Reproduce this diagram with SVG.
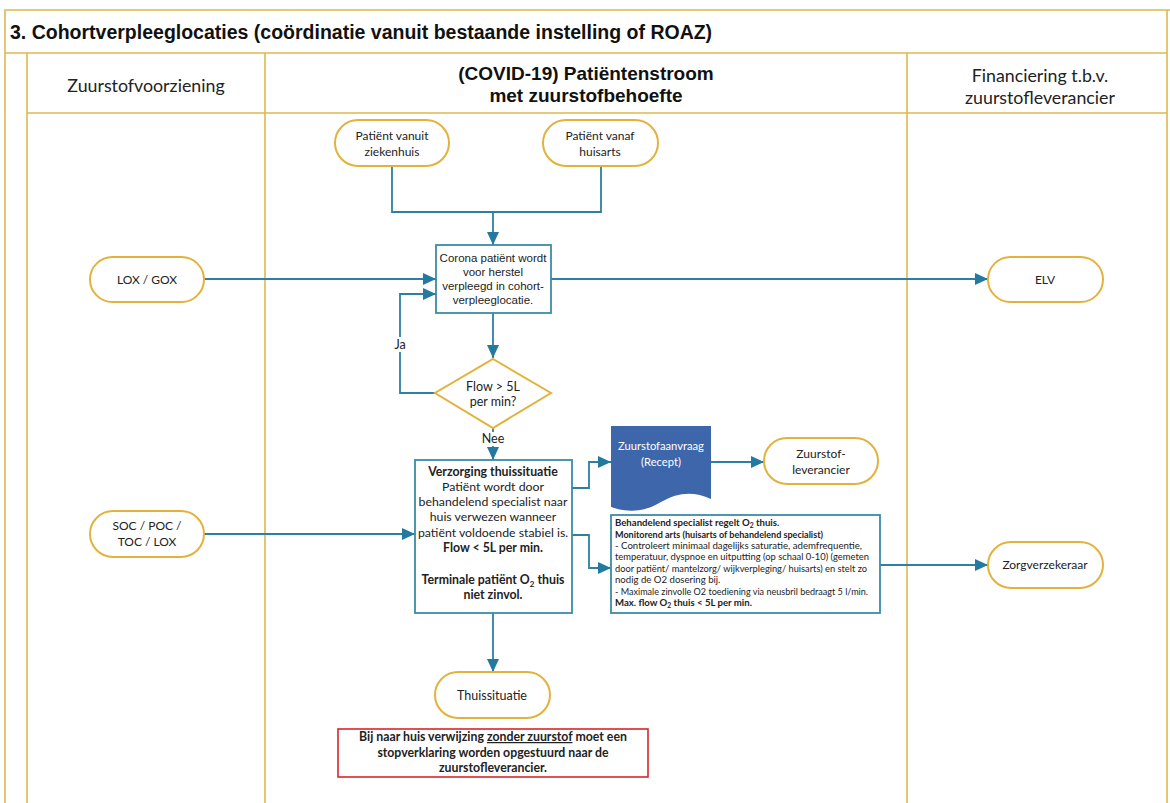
<svg xmlns="http://www.w3.org/2000/svg" width="1170" height="803" viewBox="0 0 1170 803">
<style>
.lane{stroke:#DDB94F;stroke-width:1.6;fill:none}
.term{fill:#fff;stroke:#E3B23C;stroke-width:2}
.box{fill:#fff;stroke:#3B8CA6;stroke-width:1.8}
.con{fill:none;stroke:#2E7FA2;stroke-width:1.8}
.t{font-family:Lato,"Open Sans",sans-serif;fill:#222;text-anchor:middle}
.a{font-family:"Liberation Sans",Arial,sans-serif;fill:#222;text-anchor:middle}
.b{font-weight:bold}
.lbl{fill:#fff}
</style>
<defs>
<marker id="arr" markerUnits="userSpaceOnUse" markerWidth="13" markerHeight="12" refX="13" refY="6" orient="auto">
<path d="M0,0 L13,6 L0,12 Z" fill="#2379A0"/>
</marker>
</defs>
<rect width="1170" height="803" fill="#fff"/>
<g id="lanes">
<path class="lane" d="M5,803 V10 H1170 M1167,10 V803 M5,53 H1167 M27,53 V803 M27,113 H1167 M265,53 V803 M907,53 V803"/>
<text x="10" y="39" class="a b" style="text-anchor:start;font-size:19.5px;fill:#111">3. Cohortverpleeglocaties (coördinatie vanuit bestaande instelling of ROAZ)</text>
<text x="146" y="92" class="t" style="font-size:17.8px">Zuurstofvoorziening</text>
<text x="586" y="80" class="a b" style="font-size:19px;fill:#111">(COVID-19) Patiëntenstroom</text>
<text x="586" y="102" class="a b" style="font-size:19px;fill:#111">met zuurstofbehoefte</text>
<text x="1040" y="82" class="t" style="font-size:17.8px">Financiering t.b.v.</text>
<text x="1040" y="104" class="t" style="font-size:17.8px">zuurstofleverancier</text>
</g>
<g id="connectors">
<path class="con" d="M392,166 V212 H601 V166"/>
<path class="con" d="M493,212 V245" marker-end="url(#arr)"/>
<path class="con" d="M204,279 H436" marker-end="url(#arr)"/>
<path class="con" d="M551,279 H988" marker-end="url(#arr)"/>
<path class="con" d="M493,313 V358" marker-end="url(#arr)"/>
<path class="con" d="M435,393 H400 V294 H436" marker-end="url(#arr)"/>
<path class="con" d="M493,428 V460" marker-end="url(#arr)"/>
<path class="con" d="M204,534 H415" marker-end="url(#arr)"/>
<path class="con" d="M572,488 H589 V462 H611" marker-end="url(#arr)"/>
<path class="con" d="M711,462 H764" marker-end="url(#arr)"/>
<path class="con" d="M572,535 H589 V568 H611" marker-end="url(#arr)"/>
<path class="con" d="M880,565 H988" marker-end="url(#arr)"/>
<path class="con" d="M493,613 V672" marker-end="url(#arr)"/>
<rect x="390" y="337" width="20" height="15" class="lbl"/>
<text x="400" y="349" class="t" style="font-size:12.5px">Ja</text>
<rect x="479" y="432" width="28" height="14" class="lbl"/>
<text x="493" y="443" class="t" style="font-size:12.5px">Nee</text>
</g>
<g id="n-ziekenhuis">
<rect x="335" y="120" width="114" height="46" rx="23" class="term"/>
<text x="392" y="140" class="t" style="font-size:12px">Patiënt vanuit</text>
<text x="392" y="156" class="t" style="font-size:12px">ziekenhuis</text>
</g>
<g id="n-huisarts">
<rect x="543" y="120" width="115" height="46" rx="23" class="term"/>
<text x="600" y="140" class="t" style="font-size:12px">Patiënt vanaf</text>
<text x="600" y="156" class="t" style="font-size:12px">huisarts</text>
</g>
<g id="n-corona">
<rect x="436" y="245" width="115" height="68" class="box"/>
<text x="493" y="262" class="a" style="font-size:11.5px">Corona patiënt wordt</text>
<text x="493" y="276" class="a" style="font-size:11.5px">voor herstel</text>
<text x="493" y="290" class="a" style="font-size:11.5px">verpleegd in cohort-</text>
<text x="493" y="304" class="a" style="font-size:11.5px">verpleeglocatie.</text>
</g>
<g id="n-lox">
<rect x="90" y="257" width="114" height="45" rx="22.5" class="term"/>
<text x="147" y="284" class="t" style="font-size:12px">LOX / GOX</text>
</g>
<g id="n-elv">
<rect x="988" y="257" width="115" height="45" rx="22.5" class="term"/>
<text x="1045" y="284" class="t" style="font-size:12px">ELV</text>
</g>
<g id="n-flow">
<polygon points="493,359 551,393 493,428 435,393" fill="#fff" stroke="#E3B23C" stroke-width="2"/>
<text x="493" y="391" class="t" style="font-size:12.5px">Flow &gt; 5L</text>
<text x="493" y="406" class="t" style="font-size:12.5px">per min?</text>
</g>
<g id="n-verzorging">
<rect x="415" y="460" width="157" height="153" class="box"/>
<text x="493" y="476" class="t b" style="font-size:12.3px">Verzorging thuissituatie</text>
<text x="493" y="491" class="t" style="font-size:12.3px">Patiënt wordt door</text>
<text x="493" y="506" class="t" style="font-size:12.3px">behandelend specialist naar</text>
<text x="493" y="521" class="t" style="font-size:12.3px">huis verwezen wanneer</text>
<text x="493" y="537" class="t" style="font-size:12.3px">patiënt voldoende stabiel is.</text>
<text x="493" y="552" class="t b" style="font-size:12.3px">Flow &lt; 5L per min.</text>
<text x="493" y="584" class="t b" style="font-size:12.3px">Terminale patiënt O<tspan font-size="8" dy="3">2</tspan><tspan dy="-3"> thuis</tspan></text>
<text x="493" y="599" class="t b" style="font-size:12.3px">niet zinvol.</text>
</g>
<g id="n-soc">
<rect x="90" y="511" width="114" height="46" rx="23" class="term"/>
<text x="147" y="530" class="t" style="font-size:12px">SOC / POC /</text>
<text x="147" y="546" class="t" style="font-size:12px">TOC / LOX</text>
</g>
<g id="n-aanvraag">
<path d="M611,426 H711 V499 C694,491 678,492 661,502 C645,512 628,513 611,507 Z" fill="#3E66AB"/>
<text x="661" y="450" class="t" style="font-size:11.2px;fill:#fff">Zuurstofaanvraag</text>
<text x="661" y="466" class="t" style="font-size:11.2px;fill:#fff">(Recept)</text>
</g>
<g id="n-leverancier">
<rect x="764" y="438" width="114" height="46" rx="23" class="term"/>
<text x="821" y="458" class="t" style="font-size:12px">Zuurstof-</text>
<text x="821" y="474" class="t" style="font-size:12px">leverancier</text>
</g>
<g id="n-specialist">
<rect x="611" y="515" width="269" height="98" class="box"/>
<g class="t" style="text-anchor:start;font-size:9.6px">
<text x="615" y="526" class="b">Behandelend specialist regelt O<tspan font-size="6.8" dy="2">2</tspan><tspan dy="-2"> thuis.</tspan></text>
<text x="615" y="538" class="b" textLength="208" lengthAdjust="spacingAndGlyphs">Monitorend arts (huisarts of behandelend specialist)</text>
<text x="615" y="549" textLength="247" lengthAdjust="spacingAndGlyphs">- Controleert minimaal dagelijks saturatie, ademfrequentie,</text>
<text x="615" y="560" textLength="254" lengthAdjust="spacingAndGlyphs">temperatuur, dyspnoe en uitputting (op schaal 0-10) (gemeten</text>
<text x="615" y="572" textLength="252" lengthAdjust="spacingAndGlyphs">door patiënt/ mantelzorg/ wijkverpleging/ huisarts) en stelt zo</text>
<text x="615" y="583">nodig de O2 dosering bij.</text>
<text x="615" y="595" textLength="253" lengthAdjust="spacingAndGlyphs">- Maximale zinvolle O2 toediening via neusbril bedraagt 5 l/min.</text>
<text x="615" y="606" class="b">Max. flow O<tspan font-size="6.8" dy="2">2</tspan><tspan dy="-2"> thuis &lt; 5L per min.</tspan></text>
</g>
</g>
<g id="n-zorgverzekeraar">
<rect x="988" y="542" width="115" height="46" rx="23" class="term"/>
<text x="1045" y="569" class="t" style="font-size:12px">Zorgverzekeraar</text>
</g>
<g id="n-thuis">
<rect x="435" y="672" width="115" height="46" rx="23" class="term"/>
<text x="492" y="700" class="t" style="font-size:12.5px">Thuissituatie</text>
</g>
<g id="n-stop">
<rect x="338" y="729" width="310" height="48" fill="#fff" stroke="#D8262C" stroke-width="1.6"/>
<text x="493" y="741" class="t b" style="font-size:12.3px">Bij naar huis verwijzing <tspan text-decoration="underline">zonder zuurstof</tspan> moet een</text>
<text x="493" y="757" class="t b" style="font-size:12.3px">stopverklaring worden opgestuurd naar de</text>
<text x="493" y="772" class="t b" style="font-size:12.3px">zuurstofleverancier.</text>
</g>
</svg>
